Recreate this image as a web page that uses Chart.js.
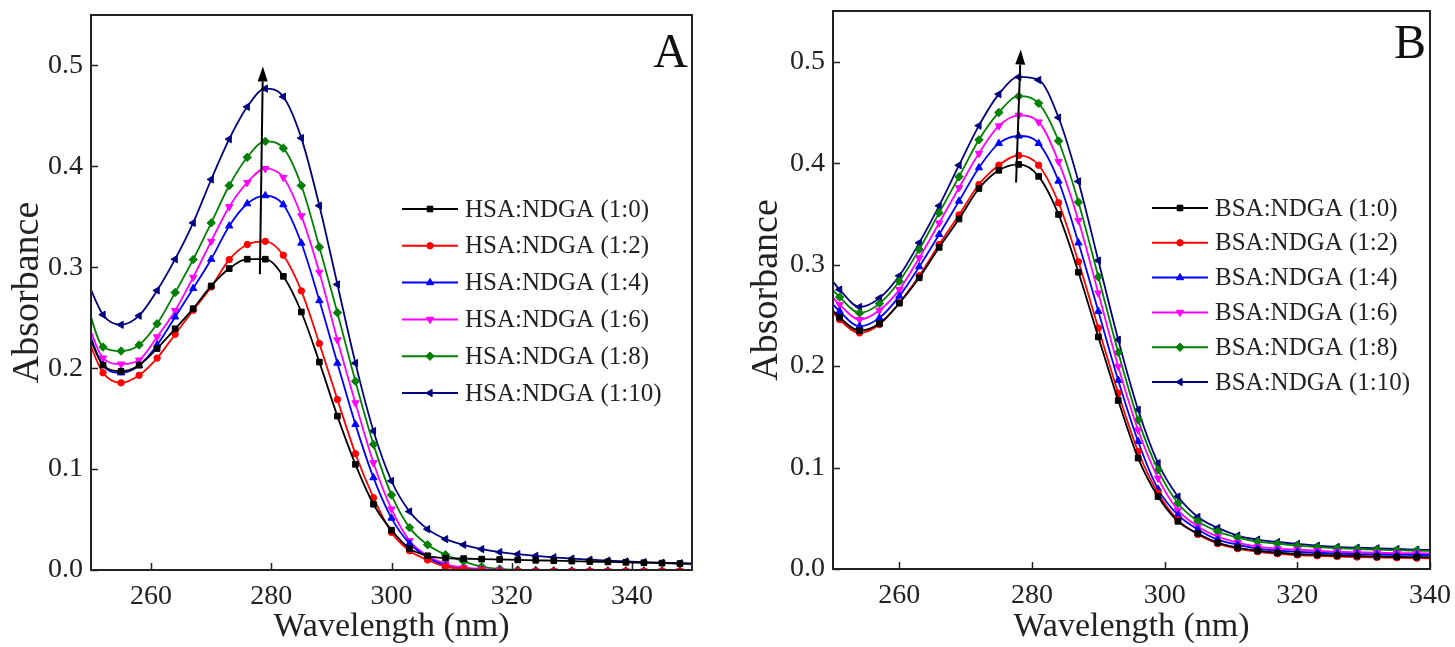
<!DOCTYPE html>
<html>
<head>
<meta charset="utf-8">
<script src="https://cdn.jsdelivr.net/npm/chart.js@4.4.1/dist/chart.umd.min.js"></script>
<style>
  html, body { margin: 0; padding: 0; background: #fff; }
  #wrapA { position: absolute; left: 0; top: 0; }
  #wrapB { position: absolute; left: 730px; top: 0; }
</style>
</head>
<body>
<div id="wrapA"><canvas id="chartA" width="720" height="647"></canvas></div>
<div id="wrapB"><canvas id="chartB" width="725" height="647"></canvas></div>
<script>
// ---- data ----
const wavelengthsA = [249, 252, 255, 258, 261, 264, 267, 270, 273, 276, 279, 282, 285, 288, 291, 294, 297, 300,
                      303, 306, 309, 312, 315, 318, 321, 324, 327, 330, 333, 336, 339, 342, 345, 348, 351];
const hsa_1_0  = [0.243, 0.203, 0.197, 0.203, 0.2195, 0.239, 0.259, 0.2815, 0.2987, 0.308, 0.308, 0.291, 0.2557, 0.206, 0.1525, 0.1047, 0.0652, 0.0395,
                  0.0213, 0.0141, 0.0118, 0.0113, 0.0108, 0.0104, 0.0100, 0.0096, 0.0092, 0.0088, 0.0084, 0.0080, 0.0076, 0.0072, 0.0068, 0.0064, 0.0060];
const hsa_1_2  = [0.236, 0.1954, 0.1855, 0.193, 0.210, 0.2337, 0.2574, 0.2805, 0.3076, 0.3225, 0.3257, 0.312, 0.2766, 0.2244, 0.169, 0.1152, 0.0717, 0.0372,
                  0.019, 0.0099, 0.0033, 0.001, 0, -0.001, -0.001, -0.001, -0.001, -0.001, -0.001, -0.001, -0.001, -0.001, -0.001, -0.001, -0.001];
const hsa_1_4  = [0.246, 0.203, 0.1954, 0.2026, 0.223, 0.2508, 0.279, 0.308, 0.341, 0.363, 0.371, 0.362, 0.324, 0.267, 0.205, 0.1443, 0.0915, 0.0514,
                  0.0263, 0.0125, 0.0042, 0.001, 0, -0.001, -0.001, -0.001, -0.001, -0.001, -0.001, -0.001, -0.001, -0.001, -0.001, -0.001, -0.001];
const hsa_1_6  = [0.252, 0.210, 0.204, 0.208, 0.231, 0.257, 0.290, 0.3257, 0.360, 0.384, 0.3977, 0.389, 0.351, 0.295, 0.228, 0.1656, 0.1063, 0.0603,
                  0.029, 0.0141, 0.0059, 0.0025, 0.001, 0, -0.001, -0.001, -0.001, -0.001, -0.001, -0.001, -0.001, -0.001, -0.001, -0.001, -0.001];
const hsa_1_8  = [0.270, 0.221, 0.217, 0.223, 0.244, 0.275, 0.3076, 0.344, 0.381, 0.409, 0.4248, 0.418, 0.381, 0.320, 0.255, 0.187, 0.1245, 0.0744,
                  0.042, 0.025, 0.0151, 0.0085, 0.0033, 0.001, 0, -0.0005, -0.001, -0.001, -0.001, -0.001, -0.001, -0.001, -0.001, -0.001, -0.001];
const hsa_1_10 = [0.292, 0.253, 0.243, 0.252, 0.277, 0.308, 0.344, 0.387, 0.427, 0.459, 0.477, 0.469, 0.428, 0.361, 0.283, 0.205, 0.1377, 0.0882,
                  0.058, 0.0405, 0.0306, 0.025, 0.0207, 0.0177, 0.0157, 0.0140, 0.0126, 0.0113, 0.0102, 0.0093, 0.0085, 0.0078, 0.0072, 0.0067, 0.0063];

const wavelengthsB = [248, 251, 254, 257, 260, 263, 266, 269, 272, 275, 278, 281, 284, 287, 290, 293,
                      296, 299, 302, 305, 308, 311, 314, 317, 320, 323, 326, 329, 332, 335, 338, 341];
const bsa_1_0  = [0.270, 0.248, 0.235, 0.242, 0.262, 0.287, 0.317, 0.345, 0.375, 0.393, 0.3988, 0.387, 0.3495, 0.2925, 0.2287, 0.1661,
                  0.1093, 0.0714, 0.047, 0.035, 0.026, 0.021, 0.018, 0.016, 0.0148, 0.014, 0.0133, 0.0128, 0.0124, 0.012, 0.0117, 0.0115];
const bsa_1_2  = [0.268, 0.2458, 0.2327, 0.241, 0.2623, 0.289, 0.3198, 0.349, 0.379, 0.398, 0.4077, 0.398, 0.361, 0.3028, 0.2376, 0.1734,
                  0.1158, 0.0747, 0.0484, 0.034, 0.025, 0.020, 0.017, 0.015, 0.0138, 0.013, 0.0123, 0.0118, 0.0114, 0.011, 0.0107, 0.0105];
const bsa_1_4  = [0.276, 0.254, 0.2392, 0.2475, 0.269, 0.298, 0.3297, 0.3626, 0.3955, 0.4195, 0.4268, 0.4195, 0.3824, 0.3215, 0.254, 0.186,
                  0.1257, 0.0787, 0.0533, 0.039, 0.029, 0.024, 0.020, 0.018, 0.017, 0.016, 0.0152, 0.0147, 0.0143, 0.014, 0.0138, 0.0136];
const bsa_1_6  = [0.283, 0.2606, 0.2458, 0.255, 0.2754, 0.3067, 0.341, 0.3758, 0.4097, 0.4367, 0.4472, 0.4406, 0.4015, 0.3435, 0.272, 0.1997,
                  0.137, 0.0895, 0.058, 0.042, 0.032, 0.026, 0.022, 0.020, 0.019, 0.018, 0.017, 0.0165, 0.016, 0.0157, 0.0155, 0.0153];
const bsa_1_8  = [0.290, 0.268, 0.2524, 0.2616, 0.2836, 0.315, 0.351, 0.3866, 0.423, 0.450, 0.466, 0.459, 0.4219, 0.3616, 0.288, 0.2135,
                  0.147, 0.0977, 0.0648, 0.047, 0.037, 0.031, 0.027, 0.025, 0.023, 0.0215, 0.0205, 0.0198, 0.019, 0.0185, 0.018, 0.0178];
const bsa_1_10 = [0.300, 0.2754, 0.2583, 0.267, 0.289, 0.3215, 0.358, 0.398, 0.437, 0.468, 0.485, 0.482, 0.445, 0.382, 0.304, 0.226,
                  0.157, 0.1043, 0.0714, 0.0513, 0.0405, 0.033, 0.029, 0.0266, 0.0247, 0.023, 0.0217, 0.021, 0.0204, 0.0197, 0.019, 0.0187];

const labelsA = ['HSA:NDGA (1:0)', 'HSA:NDGA (1:2)', 'HSA:NDGA (1:4)', 'HSA:NDGA (1:6)', 'HSA:NDGA (1:8)', 'HSA:NDGA (1:10)'];
const labelsB = ['BSA:NDGA (1:0)', 'BSA:NDGA (1:2)', 'BSA:NDGA (1:4)', 'BSA:NDGA (1:6)', 'BSA:NDGA (1:8)', 'BSA:NDGA (1:10)'];

const xTicksA = [260, 280, 300, 320, 340];
const xTicksB = [260, 280, 300, 320, 340];
const yTicks = [0, 0.1, 0.2, 0.3, 0.4, 0.5];

// arrow showing increasing ratio: [wavelength, absorbance] tail -> head
const arrowA = [[278.1, 0.293], [278.6, 0.499]];
const arrowB = [[277.6, 0.381], [278.3, 0.512]];

// ---- styles ----
const FONT = "'Liberation Serif', 'Times New Roman', serif";
Chart.defaults.font.family = FONT;
Chart.defaults.color = '#222';

const seriesColors = ['#000000', '#ff0000', '#0000ff', '#ff00ff', '#008000', '#000080'];
const seriesMarkers = [
    { style: 'rect', rot: 0, r: 4 },
    { style: 'circle', rot: 0, r: 3.2 },
    { style: 'triangle', rot: 0, r: 4.2 },
    { style: 'triangle', rot: 180, r: 4.2 },
    { style: 'rectRot', rot: 0, r: 4.2 },
    { style: 'triangle', rot: -90, r: 4.2 }
];

function drawMarker(ctx, i, x, y) {
    const m = seriesMarkers[i];
    const opts = { pointStyle: m.style, rotation: m.rot, radius: m.r, borderWidth: 1 };
    ctx.fillStyle = seriesColors[i];
    ctx.strokeStyle = seriesColors[i];
    ctx.lineWidth = 1;
    if (Chart.helpers && Chart.helpers.drawPoint) {
        Chart.helpers.drawPoint(ctx, opts, x, y);
    } else {
        ctx.beginPath();
        ctx.arc(x, y, m.r, 0, Math.PI * 2);
        ctx.fill();
    }
}

const decorPlugin = {
    id: 'decor',
    afterDatasetsDraw(chart, args, o) {
        const { ctx, chartArea: a } = chart;
        const xs = chart.scales.x, ys = chart.scales.y;
        ctx.save();

        // frame round the plot
        ctx.strokeStyle = '#222';
        ctx.lineWidth = 2;
        ctx.strokeRect(a.left, a.top, a.right - a.left, a.bottom - a.top);

        // inward tick marks
        ctx.lineWidth = 1.5;
        ctx.beginPath();
        xs.ticks.forEach(t => {
            const px = Math.round(xs.getPixelForValue(t.value)) + 0.5;
            ctx.moveTo(px, a.bottom);
            ctx.lineTo(px, a.bottom - 7);
        });
        ys.ticks.forEach(t => {
            const py = Math.round(ys.getPixelForValue(t.value)) + 0.5;
            ctx.moveTo(a.left, py);
            ctx.lineTo(a.left + 7, py);
        });
        ctx.stroke();

        // arrow
        const x0 = xs.getPixelForValue(o.arrow[0][0]), y0 = ys.getPixelForValue(o.arrow[0][1]);
        const x1 = xs.getPixelForValue(o.arrow[1][0]), y1 = ys.getPixelForValue(o.arrow[1][1]);
        const ang = Math.atan2(y1 - y0, x1 - x0);
        const hl = 15, hw = 5;
        const bx = x1 - hl * Math.cos(ang), by = y1 - hl * Math.sin(ang);
        ctx.strokeStyle = '#000';
        ctx.fillStyle = '#000';
        ctx.lineWidth = 2;
        ctx.beginPath();
        ctx.moveTo(x0, y0);
        ctx.lineTo(bx, by);
        ctx.stroke();
        ctx.beginPath();
        ctx.moveTo(x1, y1);
        ctx.lineTo(bx + hw * Math.sin(ang), by - hw * Math.cos(ang));
        ctx.lineTo(bx - hw * Math.sin(ang), by + hw * Math.cos(ang));
        ctx.closePath();
        ctx.fill();

        // legend: line segment with marker, then label
        ctx.font = '25px ' + FONT;
        ctx.textBaseline = 'middle';
        ctx.textAlign = 'left';
        chart.data.datasets.forEach((ds, i) => {
            const ry = o.legendY + i * o.legendGap;
            ctx.strokeStyle = seriesColors[i];
            ctx.lineWidth = 2;
            ctx.beginPath();
            ctx.moveTo(o.legendX, ry);
            ctx.lineTo(o.legendX + 56, ry);
            ctx.stroke();
            drawMarker(ctx, i, o.legendX + 28, ry);
            ctx.fillStyle = '#222';
            ctx.fillText(ds.label, o.legendX + 63, ry + 1);
        });

        // panel letter
        ctx.font = '48px ' + FONT;
        ctx.textAlign = 'right';
        ctx.textBaseline = 'alphabetic';
        ctx.fillStyle = '#111';
        ctx.fillText(o.letter, a.right - 4, a.top + o.letterDy);

        ctx.restore();
    }
};

function makePanel(canvasId, wl, series, labels, cfg) {
    const datasets = series.map((vals, i) => ({
        label: labels[i],
        data: wl.map((w, j) => ({ x: w, y: vals[j] })),
        borderColor: seriesColors[i],
        backgroundColor: seriesColors[i],
        borderWidth: 1.8,
        pointStyle: seriesMarkers[i].style,
        pointRotation: seriesMarkers[i].rot,
        pointRadius: seriesMarkers[i].r,
        pointBorderWidth: 1,
        cubicInterpolationMode: 'monotone',
        fill: false
    }));

    return new Chart(document.getElementById(canvasId), {
        type: 'line',
        data: { datasets: datasets },
        options: {
            responsive: false,
            animation: false,
            devicePixelRatio: 1,
            layout: { padding: { left: 0, top: cfg.padTop, right: cfg.padRight, bottom: 0 } },
            plugins: {
                legend: { display: false },
                tooltip: { enabled: false },
                decor: {
                    arrow: cfg.arrow,
                    legendX: cfg.legendX,
                    legendY: cfg.legendY,
                    legendGap: cfg.legendGap,
                    letter: cfg.letter,
                    letterDy: cfg.letterDy
                }
            },
            scales: {
                x: {
                    type: 'linear',
                    min: cfg.xMin,
                    max: cfg.xMax,
                    afterBuildTicks: s => { s.ticks = cfg.xTicks.map(v => ({ value: v })); },
                    afterFit: s => { s.height = cfg.xHeight; s.paddingLeft = 0; s.paddingRight = 0; },
                    grid: { display: false, drawTicks: false },
                    border: { display: false },
                    ticks: { font: { size: 28 }, color: '#222', padding: 10, maxRotation: 0, callback: v => String(v) },
                    title: {
                        display: true, text: 'Wavelength (nm)', color: '#222',
                        font: { size: 34 }, padding: { top: 0, bottom: 0 }
                    }
                },
                y: {
                    type: 'linear',
                    min: 0,
                    max: 0.55,
                    afterBuildTicks: s => { s.ticks = yTicks.map(v => ({ value: v })); },
                    afterFit: s => { s.width = cfg.yWidth; s.paddingTop = 0; s.paddingBottom = 0; },
                    grid: { display: false, drawTicks: false },
                    border: { display: false },
                    ticks: { font: { size: 28 }, color: '#222', padding: 8, callback: v => Number(v).toFixed(1) },
                    title: {
                        display: true, text: 'Absorbance', color: '#222',
                        font: { size: 38 }, padding: { top: cfg.yTitlePad, bottom: 0 }
                    }
                }
            }
        },
        plugins: [decorPlugin]
    });
}

makePanel('chartA', wavelengthsA, [hsa_1_0, hsa_1_2, hsa_1_4, hsa_1_6, hsa_1_8, hsa_1_10], labelsA, {
    xMin: 250, xMax: 350, xTicks: xTicksA,
    padTop: 15, padRight: 28, xHeight: 77, yWidth: 91, yTitlePad: 5,
    arrow: arrowA, legendX: 402, legendY: 209, legendGap: 36.8,
    letter: 'A', letterDy: 52
});

makePanel('chartB', wavelengthsB, [bsa_1_0, bsa_1_2, bsa_1_4, bsa_1_6, bsa_1_8, bsa_1_10], labelsB, {
    xMin: 250, xMax: 340, xTicks: xTicksB,
    padTop: 11, padRight: 25, xHeight: 78, yWidth: 103, yTitlePad: 14,
    arrow: arrowB, legendX: 422, legendY: 208, legendGap: 34.8,
    letter: 'B', letterDy: 47
});
</script>
</body>
</html>
